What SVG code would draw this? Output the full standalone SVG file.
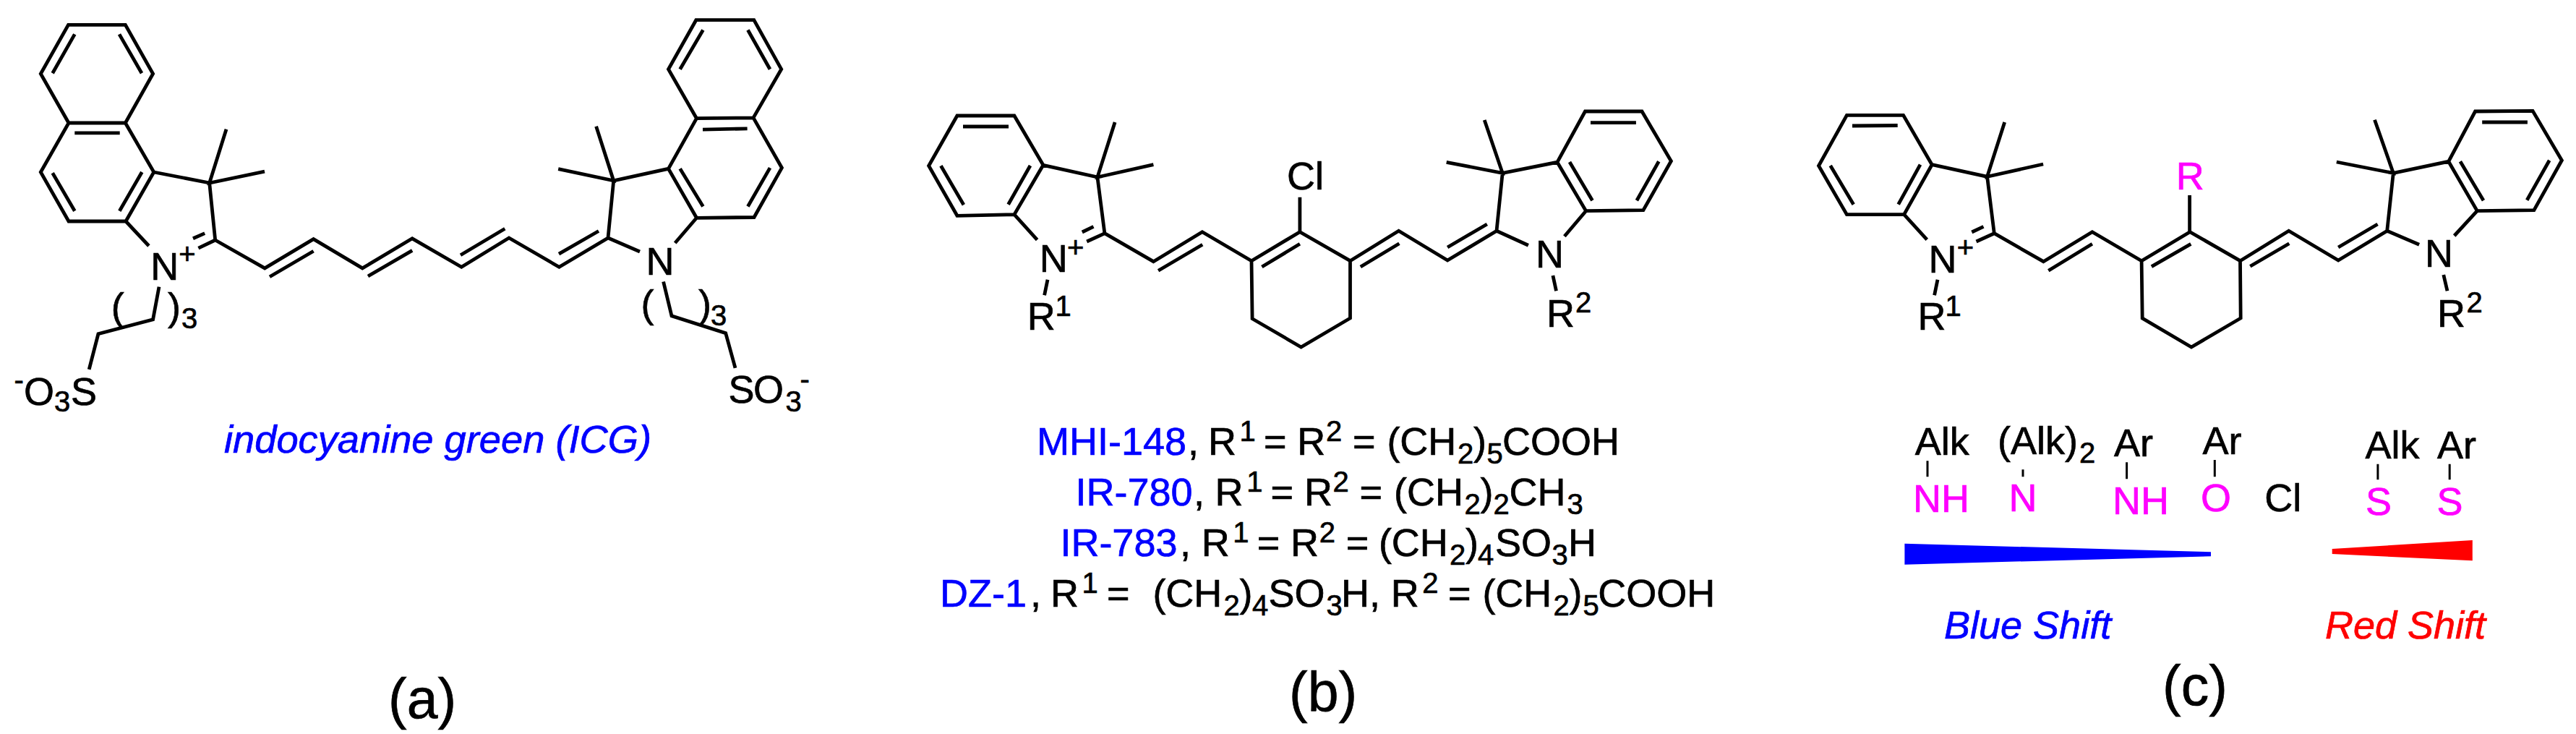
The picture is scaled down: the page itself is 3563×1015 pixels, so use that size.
<svg xmlns="http://www.w3.org/2000/svg" width="3563" height="1015" viewBox="0 0 3563 1015">
<style>
text{font-family:"Liberation Sans",Arial,sans-serif;font-size:54px;fill:#000;stroke:#000;stroke-width:.7}
.s{font-size:40px}
.p{font-size:77px}
.bl{fill:#00f;stroke:#00f}
.m{fill:#f0f;stroke:#f0f}
.r{fill:#f00;stroke:#f00}
.i{font-style:italic}
.bond{fill:none;stroke:#000;stroke-width:4.8;stroke-linejoin:miter;stroke-linecap:butt}
.thin{fill:none;stroke:#000;stroke-width:3}
</style>
<rect width="3563" height="1015" fill="#fff"/>
<g id="panel-a">
<path class="bond" d="M94.5 34.4L173.4 34.4L211.6 102L173.4 170L95 170L56.3 102Z M95 170L56.3 238L95 306L174 306L212.8 238L173.4 170 M212.8 238L289.7 253L297.7 332 M313 178.7L289.7 253L366 237.2 M174 306L205.9 340 M274.4 343.2L297.7 332 M283.2 322.6L267 329.8 M297.7 332L366.2 370.9L433.6 330.6L501.3 370.9L570.2 329.8L638.3 369.3L704 329L773.4 369.3L841 329L848.7 249.9 M103.3 47.4L72.7 101.2 M165 47.4L196 101.2 M103.3 183.9L165.7 183.9 M72.7 239.2L103.3 291.8 M196.3 238L165.3 291.8 M373 382.7L433.6 347.2 M509 382L570.2 346.4 M637 352.7L698.3 316.3 M773 351.1L828 319.5 M220 396.6L211.6 441.7L135.9 461.8L123.2 510.9 M824.6 174.8L848.7 249.9L772.2 233.7 M848.7 249.9L924.5 233.3L963.5 301.3L1043 300.5L1081.4 232.1L1042 162.9L963.5 163.7L924.5 233.3 M963.5 163.7L924.5 95.7L962.8 27.7L1042.8 27.7L1080.7 95.7L1042 162.9 M940.6 233.3L972.4 285.5 M1065 232.1L1034.4 285.5 M972 179.1L1033.6 177.9 M972.4 41.5L940.6 95.7 M1034.4 41.5L1065 95.7 M841 329L885 348 M963.5 301.3L933.7 336 M917.6 389.5L929 436.9L1003.7 460.6L1017 508.9"/>
<text x="208.3" y="386.7">N</text><text class="s" x="247.3" y="365">+</text>
<text x="153.8" y="443">(</text><text x="232" y="443">)</text><text class="s" x="251" y="454">3</text>
<text class="s" x="19.5" y="539">-</text><text x="33" y="559.5">O</text><text class="s" x="75" y="569.4">3</text><text x="98" y="559.5">S</text>
<text x="893.6" y="379.6">N</text>
<text x="886.5" y="439">(</text><text x="966" y="439">)</text><text class="s" x="983" y="450">3</text>
<text x="1007.5" y="557">S</text><text x="1042" y="557">O</text><text class="s" x="1086.5" y="568.6">3</text><text class="s" x="1106.5" y="537.5">-</text>
<text class="bl i" x="310" y="626" textLength="591" lengthAdjust="spacingAndGlyphs">indocyanine green (ICG)</text>
<text class="p" x="537" y="992.7">(a)</text>
</g>
<g id="panel-b">
<path class="bond" d="M1323.9 160L1402.9 160L1442.9 228.3L1402.9 296.7L1323.9 298.3L1284.6 229.3Z M1442.9 228.3L1517.9 245L1527.9 322.7 M1542.1 169L1517.9 245L1595.4 227.7 M1402.9 296.7L1434.6 331.7 M1503.2 334L1527.9 322.7 M1512.5 313.3L1496.8 321 M1527.9 322.7L1595.4 361.7L1662.9 320.7L1731 360.7L1797.9 320.7L1867.5 360.7L1934.6 319.3L2002.1 360L2070 319.3L2078.2 239.3 M1731 360.7L1732.1 440.7L1799.6 480L1867.5 440L1867.5 360.7 M1797.9 320.7L1797.9 272.7 M1332 175L1395 175 M1301.4 229.3L1332.9 283.3 M1425 229L1394.6 282.7 M1602.1 374.3L1663.2 338.3 M1745.4 369L1797.9 337.3 M1881.8 369L1935.4 336.7 M2002.1 342L2056.8 310 M2053.2 166L2078.2 239.3L2000.7 224.3 M2078.2 239.3L2153.9 224.3L2193.6 291.7L2272.9 290.7L2311.4 222.7L2271 154L2192.5 154L2153.9 224.3 M2200 169.7L2262.9 169.7 M2171 224L2202.5 277.3 M2294.3 223.3L2263.9 277.3 M2070 319.3L2113.9 339.3 M2193.6 291.7L2163.9 326.7 M2147.9 381L2152.5 402.3 M1449 386.7L1444.6 408.3"/>
<text x="1437.7" y="376">N</text><text class="s" x="1476" y="356.2">+</text>
<text x="1420.7" y="456">R</text><text class="s" x="1459.6" y="437.3">1</text>
<text x="1780" y="262">Cl</text>
<text x="2124" y="370">N</text>
<text x="2139" y="451.7">R</text><text class="s" x="2179" y="432.3">2</text>
<g id="line-1"><text class="bl" x="1434" y="629">MHI-148</text><text x="1643" y="629">,</text><text x="1671" y="629">R</text><text class="s" x="1714.6" y="610">1</text><text x="1748" y="629">=</text><text x="1794.3" y="629">R</text><text class="s" x="1834" y="610">2</text><text x="1871" y="629">=</text><text x="1918.4" y="629">(CH</text><text class="s" x="2016" y="641">2</text><text x="2038" y="629">)</text><text class="s" x="2056.6" y="641">5</text><text x="2078" y="629">COOH</text></g>
<g id="line-2"><text class="bl" x="1487.5" y="699">IR-780</text><text x="1651" y="699">,</text><text x="1680.6" y="699">R</text><text class="s" x="1724.2" y="680">1</text><text x="1757.6" y="699">=</text><text x="1803.9" y="699">R</text><text class="s" x="1843.6" y="680">2</text><text x="1880.6" y="699">=</text><text x="1928" y="699">(CH</text><text class="s" x="2025.6" y="711">2</text><text x="2047.6" y="699">)</text><text class="s" x="2065.5" y="711">2</text><text x="2087.5" y="699">CH</text><text class="s" x="2167.5" y="711">3</text></g>
<g id="line-3"><text class="bl" x="1466.4" y="769">IR-783</text><text x="1632" y="769">,</text><text x="1661.7" y="769">R</text><text class="s" x="1705.3" y="750">1</text><text x="1738.7" y="769">=</text><text x="1785" y="769">R</text><text class="s" x="1824.7" y="750">2</text><text x="1861.7" y="769">=</text><text x="1906.9" y="769">(CH</text><text class="s" x="2005" y="781">2</text><text x="2027" y="769">)</text><text class="s" x="2044" y="781">4</text><text x="2068" y="769">SO</text><text class="s" x="2146.5" y="781">3</text><text x="2169" y="769">H</text></g>
<g id="line-4"><text class="bl" x="1300" y="838.7">DZ-1</text><text x="1425" y="838.7">,</text><text x="1453" y="838.7">R</text><text class="s" x="1496.6" y="819.7">1</text><text x="1531" y="838.7">=</text><text x="1594.4" y="838.7">(CH</text><text class="s" x="1692.4" y="850.7">2</text><text x="1714.4" y="838.7">)</text><text class="s" x="1732" y="850.7">4</text><text x="1754.4" y="838.7">SO</text><text class="s" x="1834.6" y="850.7">3</text><text x="1855" y="838.7">H,</text><text x="1923.7" y="838.7">R</text><text class="s" x="1967.3" y="819.7">2</text><text x="2003" y="838.7">=</text><text x="2050.4" y="838.7">(CH</text><text class="s" x="2148.4" y="850.7">2</text><text x="2170.4" y="838.7">)</text><text class="s" x="2189.4" y="850.7">5</text><text x="2210.3" y="838.7">COOH</text></g>
<text class="p" x="1783" y="984">(b)</text>
</g>
<g id="panel-c">
<path class="bond" d="M2554.4 159.3L2632.6 159.3L2672.2 227.7L2633.6 296.7L2554.4 296.7L2515.5 229.3Z M2672.2 227.7L2748.6 244.3L2758.3 322.7 M2772.7 169L2748.6 244.3L2826.1 227 M2633.6 296.7L2665.3 331.3 M2733.5 334L2758.3 322.7 M2743.5 313.3L2727.3 321 M2758.3 322.7L2826.4 361.7L2893.9 320.7L2962.1 360.7L3029 320.7L3098.5 360.7L3165.7 319.3L3234.2 360L3301.7 319.3L3310.3 239.3 M2962.1 360.7L2963.2 440L3031 480L3099.2 440L3098.5 360.7 M3028.6 320.7L3028.6 270 M2562 174L2624.7 173.5 M2531.7 229L2563.7 282.7 M2656 227.7L2625.7 282.7 M2833.3 374.3L2893.9 337.3 M2975.9 368.7L3030.3 337.3 M3112.3 368.3L3166.3 336.7 M3234.2 342L3288.6 310 M3284.5 165.7L3310.3 239.3L3231.8 224 M3310.3 239.3L3386.7 223.3L3426.3 291.7L3504.9 290.7L3543.4 221.7L3503.1 153.3L3423.6 154L3386.7 223.3 M3433.2 169L3495.9 169 M3402.9 223.3L3435 277.3 M3526.2 221.7L3495.2 276.7 M3301.7 319.3L3346.1 338.3 M3426.3 291.7L3394.7 326 M3379.8 380L3385 402.3 M2680 386.7L2675.6 408.3"/>
<text x="2667.4" y="376.7">N</text><text class="s" x="2706.8" y="356.2">+</text>
<text x="2652.4" y="456">R</text><text class="s" x="2690.6" y="437.3">1</text>
<text class="m" x="3009.7" y="261.7">R</text>
<text x="3354" y="369.3">N</text>
<text x="3371" y="451.7">R</text><text class="s" x="3411.6" y="432.3">2</text>
<g id="series">
<path class="thin" d="M2666 637.3V659.3 M2798 649.3V659.3 M2941.6 639.3V662.3 M3063.3 636V659.3 M3288.9 641.7V663.3 M3388.2 641.7V663.3"/>
<text x="2648.8" y="629.3">Alk</text><text class="m" x="2646" y="708">NH</text>
<text x="2763" y="628.3">(Alk)</text><text class="s" x="2876" y="640">2</text><text class="m" x="2778.4" y="707.3">N</text>
<text x="2924" y="631">Ar</text><text class="m" x="2922" y="710.7">NH</text>
<text x="3046.5" y="628.3">Ar</text><text class="m" x="3044" y="707">O</text>
<text x="3132.3" y="707">Cl</text>
<text x="3271.5" y="633.7">Alk</text><text class="m" x="3272" y="711.7">S</text>
<text x="3371" y="633.7">Ar</text><text class="m" x="3370.6" y="711.7">S</text>
</g>
<polygon points="2634.4,751.7 2634.4,780.7 3058,769.3 3058,763.3" fill="#00f"/>
<polygon points="3225.7,759 3225.7,766 3419.8,775.3 3419.8,747" fill="#f00"/>
<text class="bl i" x="2689" y="883.3">Blue Shift</text>
<text class="r i" x="3216" y="883.3">Red Shift</text>
<text class="p" x="2991" y="975">(c)</text>
</g>
</svg>
